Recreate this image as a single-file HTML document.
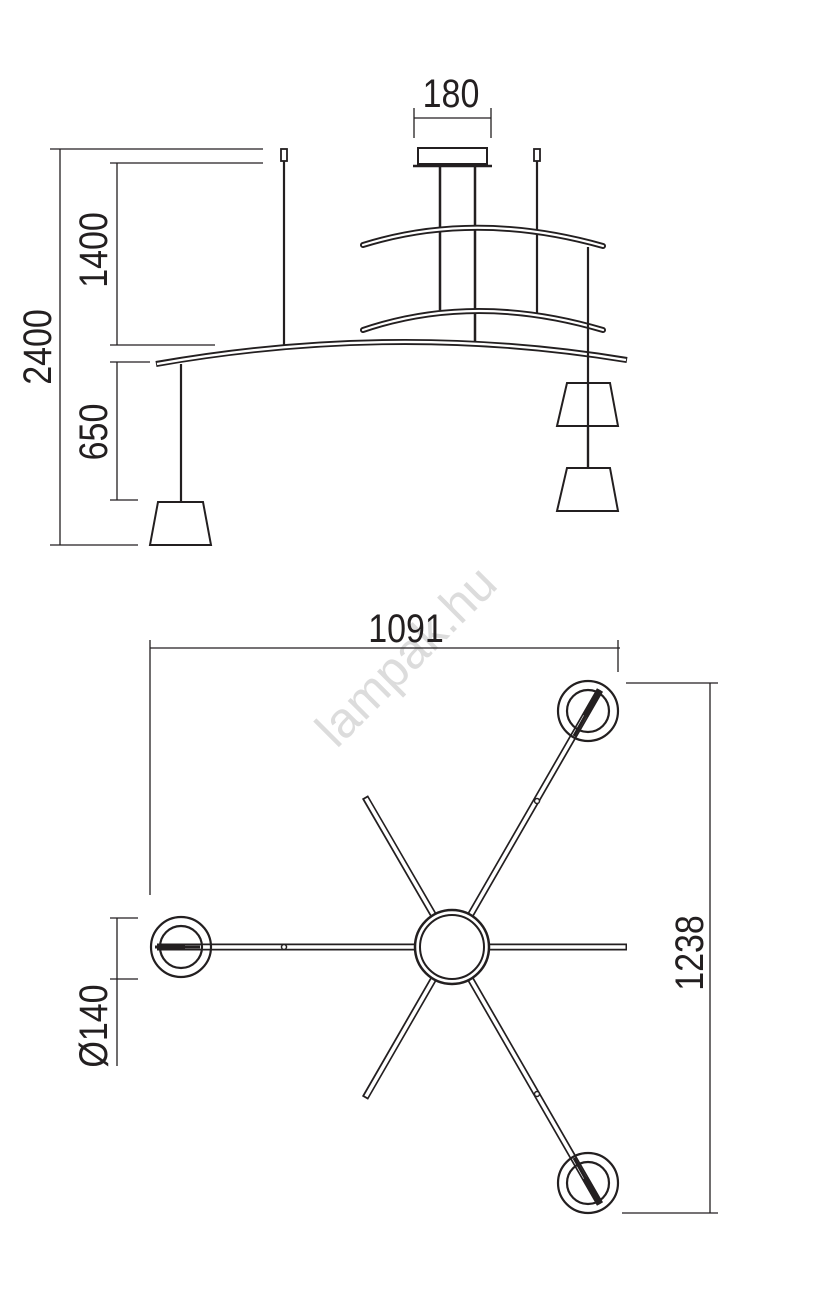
<!DOCTYPE html>
<html><head><meta charset="utf-8"><style>
html,body{margin:0;padding:0;background:#fff;}
svg{display:block;}
text{font-family:"Liberation Sans Narrow","Liberation Sans",sans-serif;fill:#231f20;}
</style></head><body>
<svg width="831" height="1301" viewBox="0 0 831 1301" xmlns="http://www.w3.org/2000/svg">
<rect width="831" height="1301" fill="#fff"/>
<!-- watermark -->
<text x="0" y="0" font-size="50" transform="translate(418,668) rotate(-45)" text-anchor="middle" style="fill:#dcdcdc">lampak.hu</text>

<g stroke="#231f20" fill="none" stroke-width="1.3">
<line x1="50" y1="149" x2="263" y2="149"/>
<line x1="60" y1="149" x2="60" y2="545"/>
<line x1="50" y1="545" x2="138" y2="545"/>
<line x1="110" y1="163" x2="263" y2="163"/>
<line x1="117" y1="163" x2="117" y2="345"/>
<line x1="110" y1="345" x2="215" y2="345"/>
<line x1="110" y1="362" x2="150" y2="362"/>
<line x1="117" y1="362" x2="117" y2="500"/>
<line x1="110" y1="500" x2="138" y2="500"/>
<line x1="414" y1="108" x2="414" y2="138"/>
<line x1="491" y1="108" x2="491" y2="138"/>
<line x1="414" y1="118" x2="491" y2="118"/>
<line x1="150" y1="648" x2="620" y2="648"/>
<line x1="150" y1="640" x2="150" y2="895"/>
<line x1="618" y1="640" x2="618" y2="672"/>
<line x1="626" y1="683" x2="718" y2="683"/>
<line x1="710" y1="683" x2="710" y2="1213"/>
<line x1="622" y1="1213" x2="718" y2="1213"/>
<line x1="110" y1="918" x2="138" y2="918"/>
<line x1="117" y1="918" x2="117" y2="1066"/>
<line x1="110" y1="979" x2="138" y2="979"/>
</g>

<g font-size="40">
<text transform="translate(451,107) scale(0.85,1)" text-anchor="middle">180</text>
<text transform="translate(51,347) rotate(-90) scale(0.85,1)" text-anchor="middle">2400</text>
<text transform="translate(107,250) rotate(-90) scale(0.85,1)" text-anchor="middle">1400</text>
<text transform="translate(107,432) rotate(-90) scale(0.85,1)" text-anchor="middle">650</text>
<text transform="translate(406,642) scale(0.85,1)" text-anchor="middle">1091</text>
<text transform="translate(703,953) rotate(-90) scale(0.85,1)" text-anchor="middle">1238</text>
<text transform="translate(107,1026) rotate(-90) scale(0.85,1)" text-anchor="middle">Ø140</text>
</g>

<g stroke="#231f20" fill="none">
<rect x="281" y="149" width="6" height="12" stroke-width="1.8"/>
<rect x="534" y="149" width="6" height="12" stroke-width="1.8"/>
<line x1="284" y1="161" x2="284" y2="346" stroke-width="2.2"/>
<line x1="537" y1="161" x2="537" y2="313" stroke-width="2.2"/>
<rect x="418" y="148" width="69" height="16" stroke-width="2"/>
<line x1="413" y1="166" x2="492" y2="166" stroke-width="2.5"/>
<line x1="440" y1="166" x2="440" y2="310" stroke-width="2.5"/>
<line x1="475" y1="166" x2="475" y2="342" stroke-width="2.5"/>
<path d="M363 245 Q475 210 603 246" stroke-width="6" stroke-linecap="round"/>
<path d="M363 245 Q475 210 603 246" stroke-width="2.2" stroke="#fff" stroke-linecap="round"/>
<path d="M363 330 Q475 292 603 330" stroke-width="6" stroke-linecap="round"/>
<path d="M363 330 Q475 292 603 330" stroke-width="2.2" stroke="#fff" stroke-linecap="round"/>
<path d="M156 364 Q395 322 627 360" stroke-width="6"/>
<path d="M157 364 Q395 322 626 360" stroke-width="2.4" stroke="#fff"/>
<line x1="588" y1="247" x2="588" y2="468" stroke-width="2.2"/>
<line x1="181" y1="364" x2="181" y2="502" stroke-width="2.2"/>
<polygon points="567,383 610,383 618,426 557,426" fill="#fff" stroke-width="2"/>
<line x1="588" y1="383" x2="588" y2="468" stroke-width="2.2"/>
<polygon points="567,468 610,468 618,511 557,511" fill="#fff" stroke-width="2"/>
<polygon points="158,502 203,502 211,545 150,545" fill="#fff" stroke-width="2"/>
</g>

<g stroke="#231f20" fill="none">
<g stroke-width="7">
<line x1="452" y1="947" x2="627" y2="947"/>
<line x1="452" y1="947" x2="365" y2="797"/>
<line x1="452" y1="947" x2="365" y2="1098"/>
<line x1="452" y1="947" x2="157" y2="947"/>
<line x1="452" y1="947" x2="600" y2="690"/>
<line x1="452" y1="947" x2="600" y2="1204"/>
</g>
<g stroke-width="3.6" stroke="#fff">
<line x1="452" y1="947" x2="625.5" y2="947"/>
<line x1="452" y1="947" x2="366" y2="798.5"/>
<line x1="452" y1="947" x2="366" y2="1096.5"/>
<line x1="452" y1="947" x2="185" y2="947"/>
<line x1="452" y1="947" x2="585" y2="716"/>
<line x1="452" y1="947" x2="585" y2="1178"/>
</g>
<line x1="155" y1="947" x2="200" y2="947" stroke-width="3"/>
<line x1="574" y1="736" x2="600" y2="690" stroke-width="3"/>
<line x1="574" y1="1158" x2="600" y2="1204" stroke-width="3"/>
<circle cx="284" cy="947" r="2.5" fill="#fff" stroke-width="1.5"/>
<circle cx="537" cy="801" r="2.5" fill="#fff" stroke-width="1.5"/>
<circle cx="537" cy="1094" r="2.5" fill="#fff" stroke-width="1.5"/>
<circle cx="452" cy="947" r="37" fill="#fff" stroke-width="2.5"/>
<circle cx="452" cy="947" r="32" stroke-width="2"/>
<circle cx="181" cy="947" r="30" stroke-width="2.2"/>
<circle cx="181" cy="947" r="21" stroke-width="2.2"/>
<circle cx="588" cy="711" r="30" stroke-width="2.2"/>
<circle cx="588" cy="711" r="21" stroke-width="2.2"/>
<circle cx="588" cy="1183" r="30" stroke-width="2.2"/>
<circle cx="588" cy="1183" r="21" stroke-width="2.2"/>
</g>
</svg>
</body></html>
